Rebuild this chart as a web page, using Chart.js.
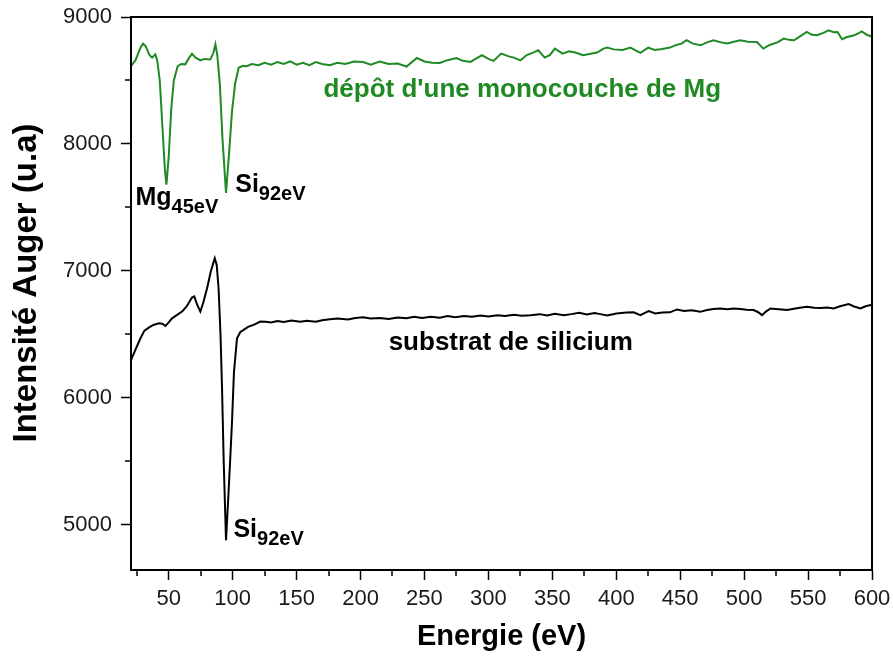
<!DOCTYPE html>
<html>
<head>
<meta charset="utf-8">
<script src="https://cdn.jsdelivr.net/npm/chart.js@4.4.0/dist/chart.umd.min.js"></script>
<style>
  html, body { margin: 0; padding: 0; background: #fff; }
  #wrap { width: 893px; height: 656px; position: relative; }
</style>
</head>
<body>
<div id="wrap"><canvas id="auger"></canvas></div>
<script>
// Spectre apres depot d'une monocouche de Mg (courbe verte)
const energyMg = [
  20.6, 24, 28, 30, 32, 35, 37, 39.5, 41, 43,
  45, 47, 48.2, 50, 52, 54, 57, 60, 63, 66,
  68.2, 71, 74.7, 78, 82.6, 85, 86.5, 88, 90, 92,
  94.8, 97, 99.5, 102, 104.7, 108, 111, 115, 120, 125,
  130, 135, 140, 145, 150, 155, 160, 165, 170, 176,
  182, 188, 195, 202, 208, 215, 222, 229, 236, 244,
  250, 256, 262, 268, 275, 280, 286, 290, 295, 300,
  304, 310, 316, 320, 325, 330, 335, 339, 344, 348,
  352, 358, 363, 368, 374, 380, 385, 390, 393, 398,
  405, 411, 418.8, 425, 430, 436, 442, 447, 451, 455,
  460, 466, 471, 476, 482, 487, 492, 497, 503, 510,
  515, 520, 526, 531, 535, 539, 544, 549, 553, 557,
  562, 566, 570, 573, 576.6, 580, 586, 589, 592, 596, 600
];
const intensityMg = [
  8615, 8660, 8760, 8790, 8770, 8700, 8680, 8706, 8660, 8500,
  8150, 7800, 7680, 7900, 8280, 8500, 8613, 8630, 8627, 8680,
  8710, 8680, 8658, 8670, 8666, 8720, 8785, 8700, 8469, 8050,
  7614, 7900, 8258, 8480, 8600, 8615, 8613, 8630, 8620, 8640,
  8625, 8645, 8630, 8650, 8625, 8640, 8620, 8645, 8630, 8620,
  8640, 8630, 8650, 8646, 8625, 8650, 8630, 8633, 8610, 8677,
  8650, 8640, 8638, 8660, 8677, 8655, 8646, 8670, 8699, 8670,
  8654, 8712, 8690, 8680, 8659, 8700, 8720, 8738, 8680, 8700,
  8751, 8712, 8730, 8720, 8699, 8710, 8720, 8751, 8759, 8745,
  8740, 8759, 8717, 8759, 8740, 8748, 8759, 8780, 8790, 8817,
  8790, 8777, 8800, 8817, 8800, 8792, 8805, 8817, 8805, 8803,
  8751, 8780, 8800, 8830, 8820, 8817, 8850, 8882, 8860, 8856,
  8875, 8895, 8880, 8882, 8825, 8840, 8856, 8870, 8887, 8860, 8843
];

// Substrat de silicium (courbe noire)
const energySi = [
  20.6, 24, 27.9, 31, 34.4, 38, 42.2, 45, 47.4, 50,
  52.6, 56, 60.4, 64, 68.2, 70, 72, 74.7, 77, 80,
  83, 86, 87.5, 89, 90.5, 91.7, 93, 94.8, 96.5, 98,
  99.5, 101, 103.4, 106, 108.6, 112, 116.4, 121.6, 126, 130,
  135, 140, 146, 152.9, 158, 165, 170, 176, 182, 190,
  196, 202, 208, 215, 222, 229, 236, 242, 248, 255,
  262, 268, 274, 281, 287, 294, 300, 307, 313, 320,
  326, 333, 340, 346, 352, 359, 365, 371, 377, 383,
  387.5, 393, 400, 408, 413.6, 418.8, 425.3, 430.5, 436, 442,
  447.5, 453, 459, 465.7, 471, 476, 481.4, 487, 491.8, 497,
  502, 507.4, 511, 514, 517, 520.6, 527, 533.6, 540, 545,
  549, 555, 560, 565, 570, 575, 581.7, 586, 591, 595, 598.8, 600
];
const intensitySi = [
  6299, 6380, 6470, 6530, 6554, 6575, 6588, 6585, 6567, 6595,
  6627, 6650, 6680, 6720, 6791, 6800, 6740, 6680, 6750, 6864,
  7000, 7101, 7050, 6864, 6500, 6075, 5500, 4879, 5200, 5500,
  5812, 6200, 6470, 6520, 6536, 6560, 6575, 6601, 6600, 6595,
  6605, 6598, 6610, 6601, 6608, 6600, 6612, 6620, 6625, 6618,
  6630, 6635, 6625, 6630, 6622, 6634, 6628, 6640, 6630, 6639,
  6632, 6645, 6635, 6645, 6640, 6650, 6642, 6652, 6645, 6655,
  6648, 6652, 6660, 6650, 6662, 6652, 6660, 6670, 6658, 6668,
  6660, 6650, 6665, 6672, 6674, 6652, 6684, 6666, 6672, 6674,
  6697, 6685, 6690, 6678, 6692, 6700, 6705, 6698, 6705, 6700,
  6695, 6692, 6675, 6652, 6680, 6705, 6698, 6692, 6705, 6712,
  6718, 6710, 6708, 6712, 6705, 6722, 6739, 6720, 6705, 6722, 6731, 6725
];

const xTicks = [50, 100, 150, 200, 250, 300, 350, 400, 450, 500, 550, 600];
const xMinorTicks = [25, 75, 125, 175, 225, 275, 325, 375, 425, 475, 525, 575];
const yTicks = [5000, 6000, 7000, 8000, 9000];
const yMinorTicks = [5500, 6500, 7500, 8500];

const green = '#1f8a24';
const fontFam = '"Liberation Sans", Arial, sans-serif';

function toPoints(xs, ys) {
    return xs.map((x, i) => ({ x: x, y: ys[i] }));
}

// cadre, petites graduations et titre de l'axe Y
const framePlugin = {
    id: 'frame',
    afterDraw(chart) {
        const { ctx, chartArea, scales: { x, y } } = chart;
        ctx.save();
        ctx.strokeStyle = '#000';
        ctx.lineWidth = 2;
        ctx.strokeRect(chartArea.left, chartArea.top, chartArea.right - chartArea.left, chartArea.bottom - chartArea.top);
        ctx.lineWidth = 1.5;
        ctx.beginPath();
        xMinorTicks.forEach(v => {
            const px = Math.round(x.getPixelForValue(v));
            ctx.moveTo(px, chartArea.bottom);
            ctx.lineTo(px, chartArea.bottom + 6);
        });
        yMinorTicks.forEach(v => {
            const py = Math.round(y.getPixelForValue(v));
            ctx.moveTo(chartArea.left, py);
            ctx.lineTo(chartArea.left - 6, py);
        });
        ctx.stroke();

        // titre vertical
        ctx.translate(27, y.getPixelForValue(6905));
        ctx.rotate(-Math.PI / 2);
        ctx.fillStyle = '#000';
        ctx.font = 'bold 33px ' + fontFam;
        ctx.textAlign = 'center';
        ctx.textBaseline = 'middle';
        ctx.fillText('Intensité Auger (u.a)', 0, 0);
        ctx.restore();
    }
};

function drawSub(ctx, main, sub, px, py) {
    ctx.font = 'bold 25px ' + fontFam;
    ctx.fillText(main, px, py);
    const w = ctx.measureText(main).width;
    ctx.font = 'bold 20px ' + fontFam;
    ctx.fillText(sub, px + w, py + 8);
}

const labelPlugin = {
    id: 'labels',
    afterDatasetsDraw(chart) {
        const { ctx, scales: { x, y } } = chart;
        ctx.save();
        ctx.textBaseline = 'alphabetic';
        ctx.textAlign = 'left';

        ctx.fillStyle = green;
        ctx.font = 'bold 26px ' + fontFam;
        ctx.fillText("dépôt d'une monocouche de Mg", x.getPixelForValue(171), y.getPixelForValue(8370));

        ctx.fillStyle = '#000';
        ctx.font = 'bold 26px ' + fontFam;
        ctx.fillText('substrat de silicium', x.getPixelForValue(222), y.getPixelForValue(6377));

        drawSub(ctx, 'Mg', '45eV', x.getPixelForValue(24), y.getPixelForValue(7518));
        drawSub(ctx, 'Si', '92eV', x.getPixelForValue(102), y.getPixelForValue(7619));
        drawSub(ctx, 'Si', '92eV', x.getPixelForValue(100.6), y.getPixelForValue(4905));
        ctx.restore();
    }
};

const ctx = document.getElementById('auger').getContext('2d');
const augerChart = new Chart(ctx, {
    type: 'scatter',
    data: {
        datasets: [{
            label: "dépôt d'une monocouche de Mg",
            data: toPoints(energyMg, intensityMg),
            showLine: true,
            borderColor: green,
            borderWidth: 2,
            pointRadius: 0,
            tension: 0
        }, {
            label: 'substrat de silicium',
            data: toPoints(energySi, intensitySi),
            showLine: true,
            borderColor: '#000',
            borderWidth: 2,
            pointRadius: 0,
            tension: 0
        }]
    },
    options: {
        responsive: true,
        maintainAspectRatio: false,
        animation: false,
        layout: { padding: { top: 17, right: 21, left: 0, bottom: 0 } },
        plugins: {
            legend: { display: false },
            tooltip: { enabled: false }
        },
        scales: {
            x: {
                type: 'linear',
                min: 20.5,
                max: 600,
                afterBuildTicks: s => { s.ticks = xTicks.map(v => ({ value: v })); },
                afterFit: s => { s.height = 86; s.paddingLeft = 0; s.paddingRight = 0; },
                border: { color: '#000', width: 2 },
                grid: { drawOnChartArea: false, drawTicks: true, tickLength: 10, tickColor: '#000', tickWidth: 1.5 },
                ticks: { color: '#1a1a1a', font: { family: fontFam, size: 22 }, padding: 6, maxRotation: 0, autoSkip: false },
                title: { display: true, text: 'Energie (eV)', color: '#000', font: { family: fontFam, size: 29, weight: 'bold' }, padding: { top: 0, bottom: 2 } }
            },
            y: {
                min: 4645,
                max: 9000,
                afterBuildTicks: s => { s.ticks = yTicks.map(v => ({ value: v })); },
                afterFit: s => { s.width = 131; s.paddingTop = 0; s.paddingBottom = 0; },
                border: { color: '#000', width: 2 },
                grid: { drawOnChartArea: false, drawTicks: true, tickLength: 10, tickColor: '#000', tickWidth: 1.5 },
                ticks: { color: '#1a1a1a', font: { family: fontFam, size: 22 }, padding: 9, callback: v => String(v) }
            }
        }
    },
    plugins: [framePlugin, labelPlugin]
});
</script>
</body>
</html>
